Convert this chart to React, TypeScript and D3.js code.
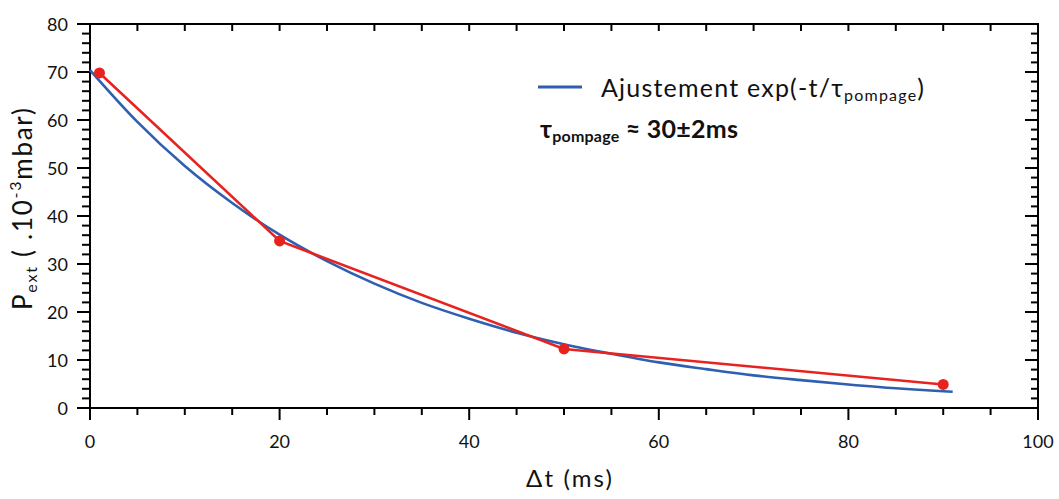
import React from "react";
import * as d3 from "d3";

const measT = [1, 20, 50, 90];
const measP = [69.8, 34.8, 12.3, 4.9];
const fitT = [0, 5, 10, 15, 20, 25, 30, 35, 40, 45, 50, 55, 60, 65, 70, 75, 80, 85, 90, 91];
const fitP = [70.4, 59.6, 50.4, 42.7, 36.1, 30.6, 25.9, 21.9, 18.6, 15.7, 13.3, 11.3, 9.5, 8.1, 6.8, 5.8, 4.9, 4.1, 3.5, 3.4];
const xMajor = [0, 20, 40, 60, 80, 100];
const yMajor = [0, 10, 20, 30, 40, 50, 60, 70, 80];

const W = 1059, H = 499;
const L = 90, R = 1038, T = 24, B = 408;
const FONT = "Lato, 'Open Sans', sans-serif";
const RED = "#e8231f";
const BLUE = "#2e5fb0";

export default function App() {
  const x = d3.scaleLinear().domain([0, 100]).range([L, R]);
  const y = d3.scaleLinear().domain([0, 80]).range([B, T]);
  const xMinor = d3.range(0, 100.1, 5);
  const yMinor = d3.range(0, 80.1, 2);
  const line = d3.line<[number, number]>().x(d => x(d[0])).y(d => y(d[1]));
  const fitLine = d3.line<[number, number]>().x(d => x(d[0])).y(d => y(d[1])).curve(d3.curveMonotoneX);
  const meas = measT.map((t, i) => [t, measP[i]] as [number, number]);
  const fit = fitT.map((t, i) => [t, fitP[i]] as [number, number]);
  const isMajX = (v: number) => xMajor.includes(v);
  const isMajY = (v: number) => yMajor.includes(v);
  return (
    <svg width={W} height={H} style={{ position: "absolute", left: 0, top: 0 }} fontFamily={FONT}>
      <rect width={W} height={H} fill="#fff" />
      <rect x={L} y={T} width={R - L} height={B - T} fill="none" stroke="#000" strokeWidth={2} />
      {xMinor.map(v => (
        <line key={"bx" + v} x1={x(v)} x2={x(v)} y1={B} y2={B + (isMajX(v) ? 12 : 7)} stroke="#000" strokeWidth={2} />
      ))}
      {xMinor.map(v => (
        <line key={"tx" + v} x1={x(v)} x2={x(v)} y1={T} y2={T + 7} stroke="#000" strokeWidth={2} />
      ))}
      {yMinor.map(v => (
        <line key={"ly" + v} x1={L} x2={L - (isMajY(v) ? 13 : 8)} y1={y(v)} y2={y(v)} stroke="#000" strokeWidth={2} />
      ))}
      {yMinor.map(v => (
        <line key={"ry" + v} x1={R} x2={R - (isMajY(v) ? 13 : 7)} y1={y(v)} y2={y(v)} stroke="#000" strokeWidth={2} />
      ))}
      {xMajor.map(v => (
        <text key={"xl" + v} x={x(v)} y={B + 40} textAnchor="middle" fontSize={18} fill="#111">{v}</text>
      ))}
      {yMajor.map(v => (
        <text key={"yl" + v} x={L - 22} y={y(v) + 6.5} textAnchor="end" fontSize={18} fill="#111">{v}</text>
      ))}
      <text x={526} y={487} fontSize={24} textLength={86} lengthAdjust="spacing" fill="#111">Δt (ms)</text>
      <text transform="translate(32,310) rotate(-90)" fontSize={26} textLength={202} lengthAdjust="spacing" fill="#111">
        P<tspan fontSize={16} dy={5}>ext</tspan>
        <tspan dy={-5}> ( .10</tspan>
        <tspan fontSize={16} dy={-11}>-3</tspan>
        <tspan dy={11}>mbar)</tspan>
      </text>
      <path d={fitLine(fit) || ""} fill="none" stroke={BLUE} strokeWidth={2.6} />
      <path d={line(meas) || ""} fill="none" stroke={RED} strokeWidth={2.6} />
      {meas.map((d, i) => (
        <circle key={"p" + i} cx={x(d[0])} cy={y(d[1])} r={5.5} fill={RED} />
      ))}
      <line x1={538} x2={582} y1={87} y2={87} stroke={BLUE} strokeWidth={3} />
      <text x={601} y={97} fontSize={25} textLength={323} lengthAdjust="spacing" fill="#111">
        Ajustement exp(-t/τ<tspan fontSize={16} dy={4}>pompage</tspan><tspan dy={-4}>)</tspan>
      </text>
      <text x={540} y={138} fontSize={25} fontWeight="bold" textLength={198} lengthAdjust="spacing" fill="#111">
        τ<tspan fontSize={16} dy={4}>pompage</tspan><tspan dy={-4}> ≈ 30±2ms</tspan>
      </text>
    </svg>
  );
}
